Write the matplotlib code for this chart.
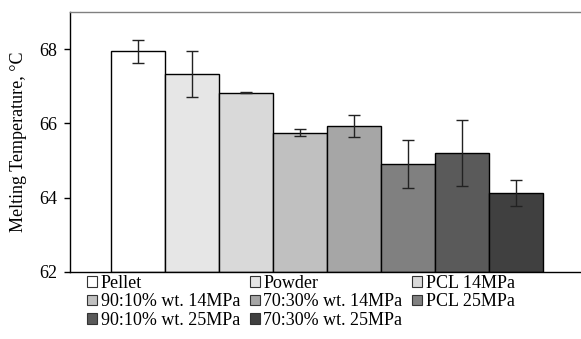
import matplotlib
matplotlib.use("Agg")
import matplotlib.pyplot as plt
from matplotlib.patches import Patch

categories = ["Pellet", "Powder", "PCL 14MPa", "90:10% wt. 14MPa", "70:30% wt. 14MPa",
              "PCL 25MPa", "90:10% wt. 25MPa", "70:30% wt. 25MPa"]
values = [67.94, 67.33, 66.83, 65.75, 65.94, 64.90, 65.20, 64.13]
errors = [0.30, 0.61, 0.02, 0.10, 0.30, 0.65, 0.89, 0.35]
colors = ["#ffffff", "#e6e6e6", "#d9d9d9", "#c0c0c0", "#a6a6a6", "#808080", "#5a5a5a", "#404040"]
yticks = [62, 64, 66, 68]

plt.rcParams['font.family'] = ['Liberation Serif', 'DejaVu Serif']

fig = plt.figure(figsize=(5.81, 3.39), dpi=100)
ax = fig.add_axes([70/581, 1-272/339, 511/581, 260/339])

x = list(range(len(values)))
ax.bar(x, [v - 62 for v in values], bottom=62, width=1.0, color=colors,
       edgecolor="black", linewidth=1.0, zorder=2)
ax.errorbar(x, values, yerr=errors, fmt="none", ecolor="#222222", elinewidth=1.0,
            capsize=4, capthick=1.0, zorder=3)

ax.set_xlim(-1.25, 8.2)
ax.set_ylim(62, 69)
ax.set_yticks(yticks)
ax.set_yticklabels([str(t) for t in yticks], fontsize=13)
ax.set_xticks([])
ax.tick_params(axis='y', direction='out', length=4, width=1, pad=5)
ax.spines['right'].set_visible(False)
ax.spines['top'].set_color('#808080')
ax.spines['top'].set_linewidth(1.0)
ax.spines['left'].set_linewidth(1.0)
ax.spines['bottom'].set_linewidth(1.0)
ax.set_ylabel("Melting Temperature, \u00b0C", fontsize=13, labelpad=9)

handles = [Patch(facecolor=c, edgecolor="#333333", linewidth=0.8) for c in colors]
order = [0, 3, 6, 1, 4, 7, 2, 5]
fig.legend([handles[i] for i in order], [categories[i] for i in order],
           loc="upper left", bbox_to_anchor=(87/581, 1-275/339),
           ncol=3, frameon=False, fontsize=13, handlelength=0.55, handleheight=0.55,
           handletextpad=0.2, columnspacing=0.55, labelspacing=0.08, borderpad=0,
           borderaxespad=0)

fig.savefig("out.png", dpi=100)
